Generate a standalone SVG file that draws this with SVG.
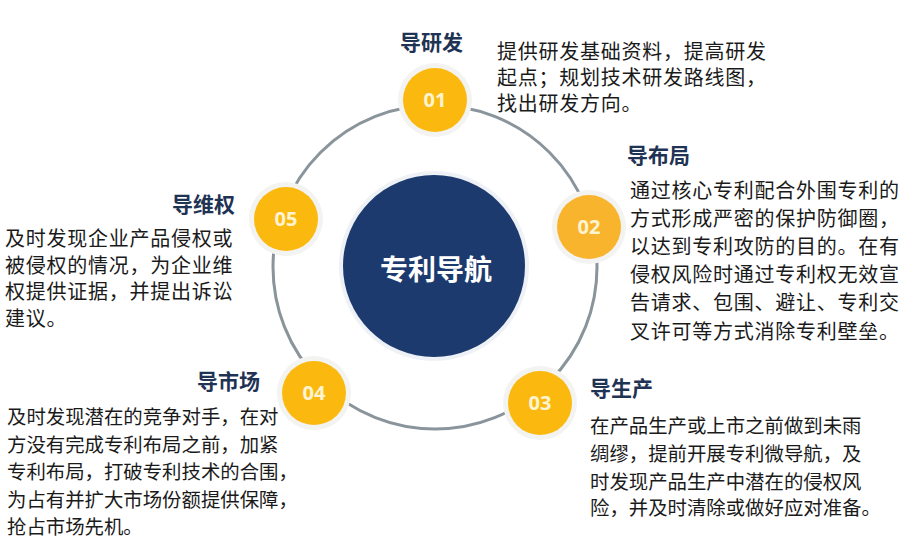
<svg xmlns="http://www.w3.org/2000/svg" width="906" height="540" viewBox="0 0 906 540">
<style>
.title{font-family:"Noto Sans CJK SC","Noto Sans",sans-serif;font-weight:700;font-size:21px;fill:#1F3354}
.body{font-family:"Noto Sans CJK SC","Noto Sans",sans-serif;font-size:20px;fill:#1A1A1A;letter-spacing:0.75px}
.body2{font-family:"Noto Sans CJK SC","Noto Sans",sans-serif;font-size:19.4px;fill:#1A1A1A}
.num{font-family:"Open Sans","Noto Sans",sans-serif;font-weight:700;font-size:20px;fill:#FFF4D2;text-anchor:middle}
.halo{fill:#F3F3F1}
.dot{fill:#FBB90F}
</style>
<rect width="906" height="540" fill="#FFFFFF"/>
<g id="connectors">
<circle cx="435" cy="267" r="162" fill="none" stroke="#8A949B" stroke-width="3"/>
</g>
<g id="center">
<circle cx="434" cy="266" r="95" fill="#EEF1F6"/>
<circle cx="434" cy="266" r="91" fill="#1C3A6E"/>
<text x="436" y="280" font-family="Noto Sans CJK SC,sans-serif" font-weight="700" font-size="28" fill="#FFFFFF" text-anchor="middle">专利导航</text>
</g>
<g id="node01">
<circle class="halo" cx="435" cy="100" r="37"/>
<circle class="dot" cx="435" cy="100" r="32"/>
<text class="num" x="435" y="107">01</text>
<text class="title" x="400" y="50">导研发</text>
<text class="body" x="497" y="59">提供研发基础资料，提高研发</text>
<text class="body" x="497" y="85">起点；规划技术研发路线图，</text>
<text class="body" x="497" y="111">找出研发方向。</text>
</g>
<g id="node02">
<circle class="halo" cx="589" cy="227" r="37"/>
<circle cx="589" cy="227" r="32" fill="#F9B42E"/>
<text class="num" x="589" y="234">02</text>
<text class="title" x="627" y="163">导布局</text>
<text class="body" x="630" y="198">通过核心专利配合外围专利的</text>
<text class="body" x="630" y="226">方式形成严密的保护防御圈，</text>
<text class="body" x="630" y="254">以达到专利攻防的目的。在有</text>
<text class="body" x="630" y="282">侵权风险时通过专利权无效宣</text>
<text class="body" x="630" y="310">告请求、包围、避让、专利交</text>
<text class="body" x="630" y="339">叉许可等方式消除专利壁垒。</text>
</g>
<g id="node03">
<circle class="halo" cx="540" cy="403" r="37"/>
<circle class="dot" cx="540" cy="403" r="32"/>
<text class="num" x="540" y="410">03</text>
<text class="title" x="590" y="396">导生产</text>
<text class="body2" x="590" y="433">在产品生产或上市之前做到未雨</text>
<text class="body2" x="590" y="461">绸缪，提前开展专利微导航，及</text>
<text class="body2" x="590" y="489">时发现产品生产中潜在的侵权风</text>
<text class="body2" x="590" y="515">险，并及时清除或做好应对准备。</text>
</g>
<g id="node04">
<circle class="halo" cx="314" cy="393" r="37"/>
<circle class="dot" cx="314" cy="393" r="32"/>
<text class="num" x="314" y="400">04</text>
<text class="title" x="260" y="389" text-anchor="end">导市场</text>
<text class="body2" x="7" y="424">及时发现潜在的竞争对手，在对</text>
<text class="body2" x="7" y="452">方没有完成专利布局之前，加紧</text>
<text class="body2" x="7" y="479">专利布局，打破专利技术的合围，</text>
<text class="body2" x="7" y="507">为占有并扩大市场份额提供保障，</text>
<text class="body2" x="7" y="534">抢占市场先机。</text>
</g>
<g id="node05">
<circle class="halo" cx="286" cy="219" r="37"/>
<circle class="dot" cx="286" cy="219" r="32"/>
<text class="num" x="286" y="226">05</text>
<text class="title" x="235" y="212" text-anchor="end">导维权</text>
<text class="body" x="5" y="246">及时发现企业产品侵权或</text>
<text class="body" x="5" y="273">被侵权的情况，为企业维</text>
<text class="body" x="5" y="299">权提供证据，并提出诉讼</text>
<text class="body" x="5" y="326">建议。</text>
</g>
</svg>
